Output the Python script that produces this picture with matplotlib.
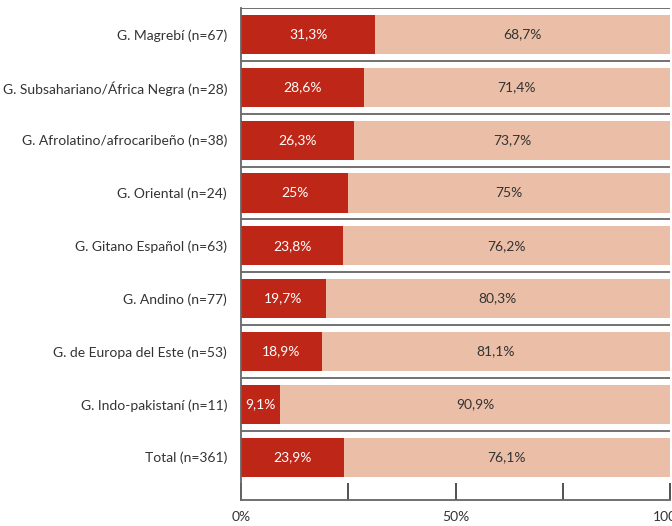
import numpy as np
import matplotlib.pyplot as plt
from matplotlib.ticker import FixedLocator

categories = [
    "G. Magrebí (n=67)",
    "G. Subsahariano/África Negra (n=28)",
    "G. Afrolatino/afrocaribeño (n=38)",
    "G. Oriental (n=24)",
    "G. Gitano Español (n=63)",
    "G. Andino (n=77)",
    "G. de Europa del Este (n=53)",
    "G. Indo-pakistaní (n=11)",
    "Total (n=361)",
]
yes_vals = [31.3, 28.6, 26.3, 25, 23.8, 19.7, 18.9, 9.1, 23.9]
no_vals = [68.7, 71.4, 73.7, 75, 76.2, 80.3, 81.1, 90.9, 76.1]
yes_labels = ["31,3%", "28,6%", "26,3%", "25%", "23,8%", "19,7%", "18,9%", "9,1%", "23,9%"]
no_labels = ["68,7%", "71,4%", "73,7%", "75%", "76,2%", "80,3%", "81,1%", "90,9%", "76,1%"]

plt.rcParams['font.family'] = ['Lato', 'DejaVu Sans']

fig = plt.figure(figsize=(6.72, 5.26), dpi=100)
ax = fig.add_axes([241 / 672, 26 / 526, 429 / 672, 492 / 526])

dark = '#BE2718'
light = '#EBBEA7'
y = np.arange(len(categories))
h = 0.74

ax.barh(y, yes_vals, height=h, color=dark, linewidth=0)
ax.barh(y, no_vals, left=yes_vals, height=h, color=light, linewidth=0)

for i in range(len(categories)):
    ax.text(yes_vals[i] / 2, y[i], yes_labels[i], ha='center', va='center',
            color='white', fontsize=10)
    ax.text(yes_vals[i] + no_vals[i] / 2, y[i], no_labels[i], ha='center', va='center',
            color='#333333', fontsize=10)

# separator lines between the rows
for b in np.arange(-0.5, len(categories) - 1, 1.0):
    ax.axhline(b, color='#666666', linewidth=1.3, zorder=0.5)

ax.set_xlim(0, 100)
ax.set_ylim(8.81, -0.5)
ax.set_yticks(y)
ax.set_yticklabels(categories, fontsize=10, color='#333333')
ax.tick_params(axis='y', length=0, pad=10)

ax.set_xticks([0, 50, 100])
ax.set_xticklabels(["0%", "50%", "100%"], fontsize=10, color='#333333')
ax.xaxis.set_minor_locator(FixedLocator([25, 75]))
ax.tick_params(axis='x', which='both', direction='in', length=12, width=1.2,
               color='#333333', pad=8)

for s in ['top', 'right']:
    ax.spines[s].set_visible(False)
for s in ['left', 'bottom']:
    ax.spines[s].set_color('#666666')
    ax.spines[s].set_linewidth(1.3)

fig.savefig('out.png', dpi=100)
